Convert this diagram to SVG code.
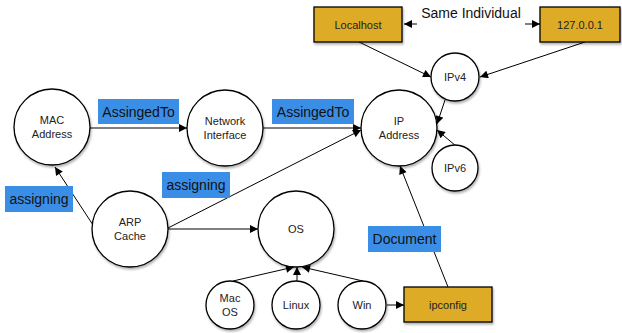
<svg xmlns="http://www.w3.org/2000/svg" width="622" height="333" viewBox="0 0 622 333">
<defs>
<marker id="ah" viewBox="0 0 10 10" refX="10" refY="5" markerWidth="10" markerHeight="8" markerUnits="userSpaceOnUse" orient="auto">
<path d="M0,0 L10,5 L0,10 z" fill="#000"/>
</marker>
<filter id="sh" x="-20%" y="-20%" width="150%" height="150%">
<feDropShadow dx="1" dy="2" stdDeviation="1.2" flood-color="#000" flood-opacity="0.3"/>
</filter>
</defs>
<style>
.c{fill:#fff;stroke:#000;stroke-width:1.3;filter:url(#sh)}
.b{fill:#DEAB28;stroke:#000;stroke-width:1.3;filter:url(#sh)}
.t{font-family:"Liberation Sans",Arial,sans-serif;font-size:11px;fill:#222;text-anchor:middle}
.l{fill:#3A8EE6}
.lt{font-family:"Liberation Sans",Arial,sans-serif;font-size:14px;fill:#111;text-anchor:middle}
.e{stroke:#000;stroke-width:1;fill:none;marker-end:url(#ah)}
</style>
<g id="connectors">
<line class="e" x1="359" y1="42" x2="431" y2="77"/>
<line class="e" x1="585" y1="42" x2="480" y2="77"/>
<line class="e" x1="445" y1="100" x2="437" y2="124"/>
<line class="e" x1="456" y1="146" x2="437" y2="130"/>
<line class="e" x1="90" y1="128" x2="187" y2="128"/>
<line class="e" x1="263" y1="128" x2="361" y2="128"/>
<line class="e" x1="168" y1="228" x2="361" y2="130"/>
<line class="e" x1="93" y1="225" x2="55" y2="167"/>
<line class="e" x1="168" y1="229" x2="258" y2="229"/>
<line class="e" x1="233" y1="281" x2="294" y2="267"/>
<line class="e" x1="297" y1="281" x2="297" y2="267"/>
<line class="e" x1="363" y1="281" x2="302" y2="267"/>
<line class="e" x1="387" y1="305" x2="404" y2="305"/>
<line class="e" x1="448" y1="287" x2="400" y2="166"/>
<line class="e" x1="417" y1="24" x2="404" y2="24"/>
<line class="e" x1="525" y1="24" x2="540" y2="24"/>
</g>
<g id="labels">
<rect class="l" x="98" y="99" width="81" height="25"/>
<text class="lt" x="138.5" y="116.5">AssingedTo</text>
<rect class="l" x="272" y="99" width="82" height="25"/>
<text class="lt" x="313" y="116.5">AssingedTo</text>
<rect class="l" x="5" y="186" width="68" height="26"/>
<text class="lt" x="39" y="204">assigning</text>
<rect class="l" x="162" y="172" width="68" height="26"/>
<text class="lt" x="196" y="190">assigning</text>
<rect class="l" x="368" y="226" width="73" height="26"/>
<text class="lt" x="404.5" y="244">Document</text>
<text class="lt" x="471" y="18">Same Individual</text>
</g>
<g id="localhost"><rect class="b" x="314" y="7" width="88" height="35"/><text class="t" x="358" y="28.5">Localhost</text></g>
<g id="loopback"><rect class="b" x="540" y="7" width="80" height="35"/><text class="t" x="580" y="28.5">127.0.0.1</text></g>
<g id="ipv4"><circle class="c" cx="455" cy="77" r="24"/><text class="t" x="455" y="81">IPv4</text></g>
<g id="ipv6"><circle class="c" cx="455" cy="168" r="23"/><text class="t" x="455" y="172">IPv6</text></g>
<g id="mac"><circle class="c" cx="52" cy="127" r="38"/><text class="t" x="52" y="124">MAC</text><text class="t" x="52" y="138">Address</text></g>
<g id="ni"><circle class="c" cx="225" cy="128" r="38"/><text class="t" x="225" y="125">Network</text><text class="t" x="225" y="139">Interface</text></g>
<g id="ip"><circle class="c" cx="399" cy="128" r="38"/><text class="t" x="399" y="125">IP</text><text class="t" x="399" y="139">Address</text></g>
<g id="arp"><circle class="c" cx="130" cy="229" r="38"/><text class="t" x="130" y="226">ARP</text><text class="t" x="130" y="240">Cache</text></g>
<g id="os"><circle class="c" cx="296" cy="229" r="38"/><text class="t" x="296" y="233">OS</text></g>
<g id="macos"><circle class="c" cx="230" cy="305" r="24"/><text class="t" x="230" y="302">Mac</text><text class="t" x="230" y="316">OS</text></g>
<g id="linux"><circle class="c" cx="296" cy="305" r="24"/><text class="t" x="296" y="309">Linux</text></g>
<g id="win"><circle class="c" cx="362" cy="305" r="24"/><text class="t" x="362" y="309">Win</text></g>
<g id="ipconfig"><rect class="b" x="404" y="287" width="88" height="35"/><text class="t" x="448" y="308.5">ipconfig</text></g>
</svg>
